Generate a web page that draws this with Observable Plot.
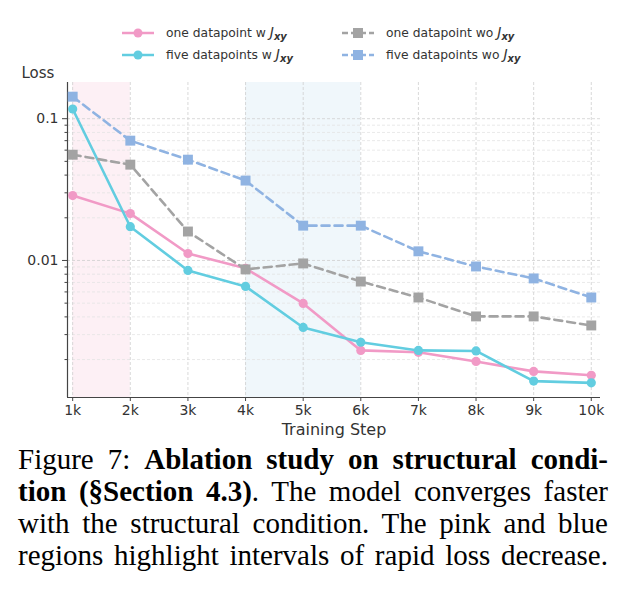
<!DOCTYPE html>
<html>
<head>
<meta charset="utf-8">
<script src="https://cdn.jsdelivr.net/npm/d3@7"></script>
<script src="https://cdn.jsdelivr.net/npm/@observablehq/plot@0.6"></script>
<style>
  html, body { margin: 0; padding: 0; background: #fff; }
  body { width: 624px; height: 590px; overflow: hidden; position: relative; }
  #legend { position: absolute; left: 0; top: 23px; width: 624px; font-family: "DejaVu Sans", sans-serif; font-size: 12.3px; color: #333; }
  .item { position: absolute; display: flex; align-items: center; height: 20px; white-space: nowrap; }
  .item svg { margin-right: 12px; }
  #chart { position: absolute; left: 0; top: 60px; }
  #caption { position: absolute; left: 18px; top: 443px; width: 590px; font-family: "Liberation Serif", "Times New Roman", serif; font-size: 29px; line-height: 32px; color: #000; }
  #caption div { text-align: justify; text-align-last: justify; white-space: nowrap; }
  i.j { font-family: "DejaVu Sans", sans-serif; font-size: 14px; }
  sub.xy { font-size: 10px; font-weight: bold; font-style: italic; vertical-align: -3px; }
</style>
</head>
<body>
<div id="legend"></div>
<div id="chart"></div>
<div id="caption">
  <div>Figure 7: <b>Ablation study on structural condi-</b></div>
  <div><b>tion (§Section 4.3)</b>. The model converges faster</div>
  <div>with the structural condition. The pink and blue</div>
  <div>regions highlight intervals of rapid loss decrease.</div>
</div>
<script>
// ---- data ----
const steps = [1, 2, 3, 4, 5, 6, 7, 8, 9, 10];            // training step, thousands
const oneDatapointW  = [0.0287, 0.0214, 0.0112, 0.0088, 0.00498, 0.00232, 0.00225, 0.00194, 0.00165, 0.00155];
const fiveDatapointsW = [0.117, 0.0173, 0.0085, 0.00656, 0.00337, 0.00265, 0.00232, 0.00230, 0.00141, 0.00137];
const oneDatapointWo = [0.0557, 0.0474, 0.0160, 0.00865, 0.00953, 0.0071, 0.00548, 0.00403, 0.00403, 0.00348];
const fiveDatapointsWo = [0.143, 0.070, 0.0514, 0.0366, 0.0176, 0.0176, 0.0116, 0.00907, 0.00747, 0.00548];
const seriesNames = ["one datapoint w", "five datapoints w", "one datapoint wo", "five datapoints wo"];
const seriesColors = ["#f19ac6", "#62cde0", "#a3a3a3", "#8fb3e2"];
const seriesDashed = [false, false, true, true];
const seriesSymbols = ["circle", "circle", "square", "square"];
const seriesValues = [oneDatapointW, fiveDatapointsW, oneDatapointWo, fiveDatapointsWo];
const highlights = [{x1: 1, x2: 2, fill: "#fdf0f5"}, {x1: 4, x2: 6, fill: "#f0f7fb"}];
const yMajorTicks = [0.01, 0.1];
const yMinorTicks = [0.002, 0.003, 0.004, 0.005, 0.006, 0.007, 0.008, 0.009, 0.02, 0.03, 0.04, 0.05, 0.06, 0.07, 0.08, 0.09];

// ---- legend ----
const legendPos = [[122, 0], [122, 22], [342, 0], [342, 22]];
const legend = document.getElementById("legend");
seriesNames.forEach((name, i) => {
  const el = document.createElement("div");
  el.className = "item";
  el.style.left = legendPos[i][0] + "px";
  el.style.top = legendPos[i][1] + "px";
  const w = 32;
  const marker = seriesSymbols[i] === "circle"
    ? `<circle cx="${w/2}" cy="10" r="4.5" fill="${seriesColors[i]}"/>`
    : `<rect x="${w/2-5}" y="5" width="10" height="10" fill="${seriesColors[i]}"/>`;
  el.innerHTML = `<svg width="${w}" height="20"><line x1="0" x2="${w}" y1="10" y2="10" stroke="${seriesColors[i]}" stroke-width="2.5" ${seriesDashed[i] ? 'stroke-dasharray="6,3"' : ''}/>${marker}</svg>` +
    `<span>${name} <i class="j">J</i><sub class="xy">xy</sub></span>`;
  legend.appendChild(el);
});

// ---- table ----
const rows = [];
seriesValues.forEach((vals, i) => vals.forEach((v, k) => rows.push({step: steps[k], loss: v, series: seriesNames[i]})));

const lineMarks = [];
seriesNames.forEach((name, i) => {
  const d = rows.filter(r => r.series === name);
  lineMarks.push(Plot.line(d, {x: "step", y: "loss", stroke: seriesColors[i], strokeWidth: 2.6,
    strokeDasharray: seriesDashed[i] ? "8,5" : null}));
  lineMarks.push(Plot.dot(d, {x: "step", y: "loss", fill: seriesColors[i], symbol: seriesSymbols[i],
    r: seriesSymbols[i] === "circle" ? 4.6 : 5.6}));
});

const xDomain = [0.91, 10.16];
const yDomain = [0.00108, 0.18];

const chart = Plot.plot({
  width: 624,
  height: 385,
  marginLeft: 67,
  marginRight: 24,
  marginTop: 22,
  marginBottom: 48,
  style: {fontFamily: "DejaVu Sans, sans-serif", fontSize: "14px", color: "#333", background: "transparent"},
  x: {domain: xDomain},
  y: {type: "log", domain: yDomain},
  marks: [
    Plot.rect(highlights, {x1: "x1", x2: "x2", fill: "fill"}),
    Plot.ruleY(yMinorTicks, {stroke: "#e3e3e3", strokeWidth: 0.8, strokeDasharray: "3,2"}),
    Plot.ruleY(yMajorTicks, {stroke: "#cfcfcf", strokeWidth: 0.8, strokeDasharray: "3,2"}),
    Plot.ruleX(steps, {stroke: "#cfcfcf", strokeWidth: 0.8, strokeDasharray: "3,2"}),
    Plot.axisX({ticks: steps, tickFormat: d => d + "k", tickSize: 4, tickPadding: 4, label: null, stroke: "#444", fontSize: 14}),
    Plot.axisY({ticks: yMajorTicks, tickFormat: d => String(d), tickSize: 5, tickPadding: 4, label: null, stroke: "#444", fontSize: 14}),
    Plot.axisY({ticks: yMinorTicks, tickFormat: () => "", tickSize: 2.5, label: null, stroke: "#444"}),
    Plot.ruleX([xDomain[0]], {stroke: "#444", strokeWidth: 1.2}),
    Plot.ruleY([yDomain[0]], {stroke: "#444", strokeWidth: 1.2}),
    ...lineMarks,
    Plot.text(["Loss"], {frameAnchor: "top-left", dx: -46, dy: -15, textAnchor: "start", fontSize: 15, fill: "#333"}),
    Plot.text(["Training Step"], {frameAnchor: "bottom", dy: 37, fontSize: 16, fill: "#333"})
  ]
});
document.getElementById("chart").appendChild(chart);
</script>
</body>
</html>
